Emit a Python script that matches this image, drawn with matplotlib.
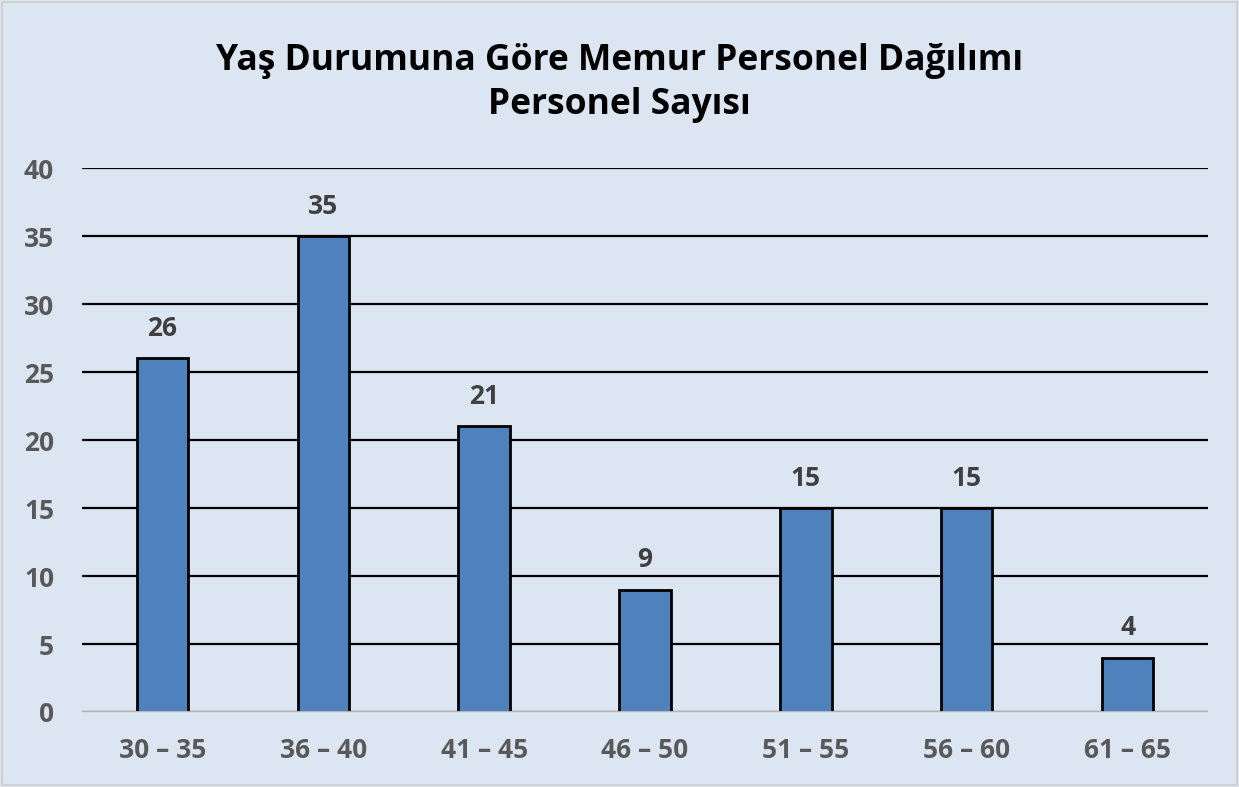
import matplotlib
matplotlib.use("Agg")
import matplotlib.pyplot as plt
from matplotlib.patches import Rectangle

categories = ["30 – 35", "36 – 40", "41 – 45", "46 – 50", "51 – 55", "56 – 60", "61 – 65"]
values = [26, 35, 21, 9, 15, 15, 4]
yticks = [0, 5, 10, 15, 20, 25, 30, 35, 40]

plt.rcParams['font.family'] = ['Open Sans', 'DejaVu Sans']

bg = "#DCE6F2"
fig = plt.figure(figsize=(12.39, 7.87), dpi=100, facecolor=bg)
fig.patches.append(Rectangle((0.002, 0.002), 0.996, 0.996, transform=fig.transFigure,
                             fill=False, edgecolor="#D0D0D0", linewidth=1.5))
ax = fig.add_axes([0.0662, 0.0953, 0.9088, 0.6912])
ax.set_facecolor(bg)

x = range(len(categories))
ax.bar(x, values, width=0.32, color="#4F81BD", edgecolor="black", linewidth=2, zorder=3)
for xi, v in zip(x, values):
    ax.text(xi, v + 1.2, str(v), ha="center", va="bottom", fontsize=19,
            fontweight="bold", color="#404040")

ax.set_ylim(0, 40)
ax.set_xlim(-0.5, len(categories) - 0.5)
ax.set_yticks(yticks)
ax.yaxis.grid(True, color="black", linewidth=1.6, zorder=0)
ax.set_axisbelow(True)
for s in ["top", "right", "left"]:
    ax.spines[s].set_visible(False)
ax.spines["bottom"].set_color("#D9D9D9")
ax.spines["bottom"].set_linewidth(1.2)
ax.spines["bottom"].set_zorder(4)
ax.set_xticks(list(x))
ax.set_xticklabels(categories)
ax.tick_params(axis="both", length=0, labelsize=19, labelcolor="#595959")
ax.tick_params(axis="x", pad=18)
ax.tick_params(axis="y", pad=20)
for lbl in ax.get_xticklabels() + ax.get_yticklabels():
    lbl.set_fontweight("bold")

fig.text(0.5, 0.923, "Yaş Durumuna Göre Memur Personel Dağılımı", ha="center", va="center",
         fontsize=25.5, fontweight="bold", color="black")
fig.text(0.5, 0.866, "Personel Sayısı", ha="center", va="center",
         fontsize=25.5, fontweight="bold", color="black")

fig.savefig("out.png", dpi=100, facecolor=bg)
